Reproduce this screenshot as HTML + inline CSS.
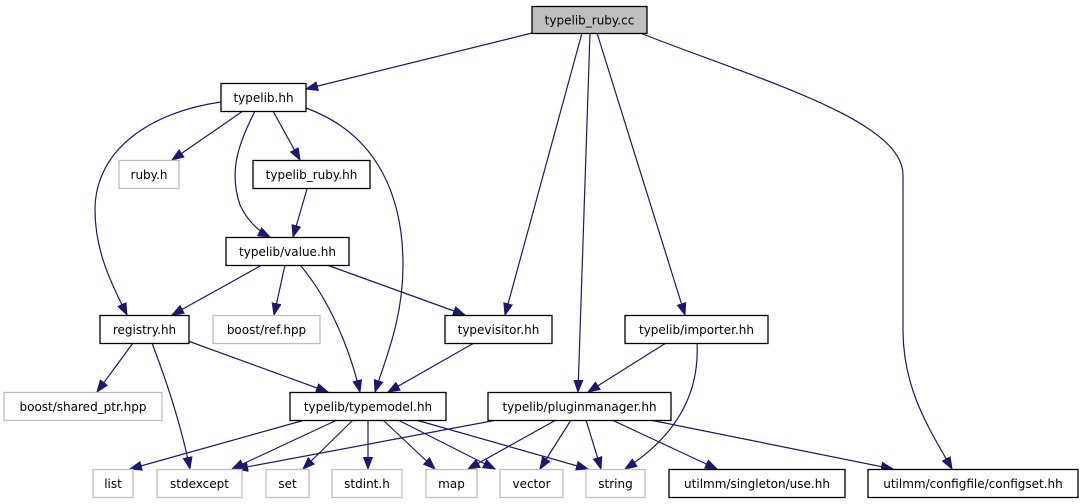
<!DOCTYPE html>
<html><head><meta charset="utf-8"><style>
html,body{margin:0;padding:0;background:#fff;}
svg{display:block;}
text{font-family:"DejaVu Sans","Liberation Sans",sans-serif;font-size:12px;fill:#000;text-anchor:middle;}
.b{fill:#fff;stroke:#000;stroke-width:1.3;}
.g{fill:#fff;stroke:#bfbfbf;stroke-width:1.3;}
.r{fill:#bfbfbf;stroke:#000;stroke-width:1.3;}
path.e{fill:none;stroke:#191970;stroke-width:1.2;}
</style></head><body>
<svg width="1083" height="504" viewBox="0 0 1083 504" xmlns="http://www.w3.org/2000/svg">
<defs>
<marker id="a" markerWidth="13" markerHeight="10" refX="12" refY="5" orient="auto" markerUnits="userSpaceOnUse">
<path d="M0,0.5 L12,5 L0,9.5 z" fill="#191970" stroke="#191970"/>
</marker>
</defs>
<g marker-end="url(#a)">
<path class="e" d="M532,33 L306,89"/>
<path class="e" d="M582,33 L505,315"/>
<path class="e" d="M590,33 L578,392"/>
<path class="e" d="M597,33 L685,315"/>
<path class="e" d="M640,33 C760,80 903,120 903,175 L903,330 C903,390 930,430 952,469"/>
<path class="e" d="M243,111 L172,160"/>
<path class="e" d="M273,111 L300,160"/>
<path class="e" d="M255,111 C235,150 230,175 240,205 C248,222 260,232 270,237"/>
<path class="e" d="M221,102 C150,112 95,150 95,210 C95,255 115,290 127,315"/>
<path class="e" d="M306,108 C380,135 403,200 403,265 C403,320 385,360 375,392"/>
<path class="e" d="M307,189 L293,237"/>
<path class="e" d="M262,265 L172,315"/>
<path class="e" d="M285,265 L274,315"/>
<path class="e" d="M300,265 C330,300 350,350 360,392"/>
<path class="e" d="M327,265 L465,315"/>
<path class="e" d="M133,343 L97,392"/>
<path class="e" d="M152,343 C170,390 182,430 190,469"/>
<path class="e" d="M188,341 L328,392"/>
<path class="e" d="M474,343 L388,392"/>
<path class="e" d="M666,343 L588,392"/>
<path class="e" d="M697,343 C700,400 670,440 625,469"/>
<path class="e" d="M305,420 L130,469"/>
<path class="e" d="M337,420 L232,469"/>
<path class="e" d="M353,420 L303,469"/>
<path class="e" d="M368,420 L368,469"/>
<path class="e" d="M383,420 L435,469"/>
<path class="e" d="M398,420 L495,469"/>
<path class="e" d="M416,420 L588,469"/>
<path class="e" d="M497,420 L236,469"/>
<path class="e" d="M556,420 L468,469"/>
<path class="e" d="M571,420 L540,469"/>
<path class="e" d="M586,420 L601,469"/>
<path class="e" d="M612,420 L717,469"/>
<path class="e" d="M650,420 L893,469"/>
</g>
<rect class="r" x="532" y="6.5" width="115" height="27"/><text x="589.5" y="24.5">typelib_ruby.cc</text>
<rect class="b" x="221" y="83.5" width="85" height="28"/><text x="263.5" y="102">typelib.hh</text>
<rect class="g" x="119" y="160.5" width="60" height="28"/><text x="149" y="179">ruby.h</text>
<rect class="b" x="253" y="160.5" width="117" height="28"/><text x="311.5" y="179">typelib_ruby.hh</text>
<rect class="b" x="226" y="237.5" width="123" height="28"/><text x="287.5" y="256">typelib/value.hh</text>
<rect class="b" x="100" y="315.5" width="89" height="28"/><text x="144.5" y="334">registry.hh</text>
<rect class="g" x="213" y="315.5" width="107" height="28"/><text x="266.5" y="334">boost/ref.hpp</text>
<rect class="b" x="445" y="315.5" width="107" height="28"/><text x="498.5" y="334">typevisitor.hh</text>
<rect class="b" x="625" y="315.5" width="143" height="28"/><text x="696.5" y="334">typelib/importer.hh</text>
<rect class="g" x="4" y="392.5" width="158" height="28"/><text x="83" y="411">boost/shared_ptr.hpp</text>
<rect class="b" x="290" y="392.5" width="156" height="28"/><text x="368" y="411">typelib/typemodel.hh</text>
<rect class="b" x="488" y="392.5" width="183" height="28"/><text x="579.5" y="411">typelib/pluginmanager.hh</text>
<rect class="g" x="93" y="469.5" width="40" height="28"/><text x="113" y="488">list</text>
<rect class="g" x="157" y="469.5" width="85" height="28"/><text x="199.5" y="488">stdexcept</text>
<rect class="g" x="266" y="469.5" width="43" height="28"/><text x="287.5" y="488">set</text>
<rect class="g" x="332" y="469.5" width="70" height="28"/><text x="367" y="488">stdint.h</text>
<rect class="g" x="426" y="469.5" width="51" height="28"/><text x="451.5" y="488">map</text>
<rect class="g" x="500" y="469.5" width="63" height="28"/><text x="531.5" y="488">vector</text>
<rect class="g" x="586" y="469.5" width="59" height="28"/><text x="615.5" y="488">string</text>
<rect class="b" x="669" y="469.5" width="176" height="28"/><text x="757" y="488">utilmm/singleton/use.hh</text>
<rect class="b" x="868" y="469.5" width="210" height="28"/><text x="973" y="488">utilmm/configfile/configset.hh</text>
</svg>
</body></html>
